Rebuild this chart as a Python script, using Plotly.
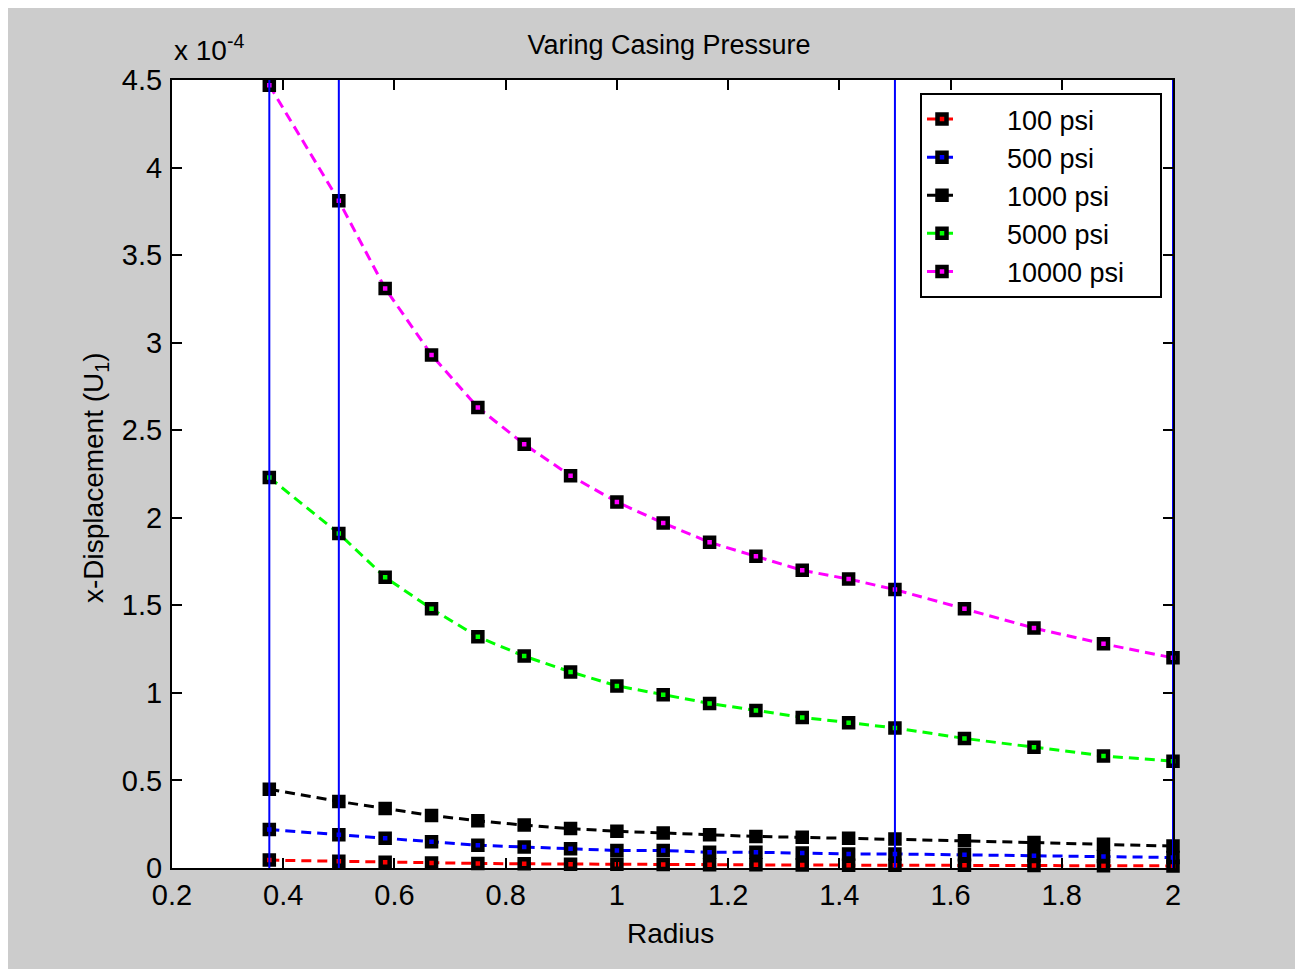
import plotly.graph_objects as go

# Radius values (x)
radius = [0.375, 0.5, 0.5833, 0.6667, 0.75, 0.8333, 0.9167, 1.0, 1.0833,
          1.1667, 1.25, 1.3333, 1.4167, 1.5, 1.625, 1.75, 1.875, 2.0]

# x-displacement values, in units of 1e-4
u_100 = [0.045, 0.038, 0.033, 0.029, 0.026, 0.024, 0.022, 0.021, 0.020,
         0.019, 0.018, 0.017, 0.016, 0.016, 0.015, 0.014, 0.013, 0.012]
u_500 = [0.22, 0.19, 0.17, 0.15, 0.13, 0.12, 0.11, 0.10, 0.10,
         0.09, 0.09, 0.085, 0.08, 0.08, 0.075, 0.07, 0.065, 0.06]
u_1000 = [0.45, 0.38, 0.34, 0.30, 0.27, 0.245, 0.225, 0.21, 0.20,
          0.19, 0.18, 0.175, 0.17, 0.165, 0.155, 0.145, 0.135, 0.125]
u_5000 = [2.23, 1.91, 1.66, 1.48, 1.32, 1.21, 1.12, 1.04, 0.99,
          0.94, 0.90, 0.86, 0.83, 0.80, 0.74, 0.69, 0.64, 0.61]
u_10000 = [4.47, 3.81, 3.31, 2.93, 2.63, 2.42, 2.24, 2.09, 1.97,
           1.86, 1.78, 1.70, 1.65, 1.59, 1.48, 1.37, 1.28, 1.20]

series_names = ["100 psi", "500 psi", "1000 psi", "5000 psi", "10000 psi"]
series_values = [u_100, u_500, u_1000, u_5000, u_10000]
series_colors = ["#ff0000", "#0000ff", "#000000", "#00ff00", "#ff00ff"]

# vertical reference lines (radius positions)
vlines_x = [0.375, 0.5, 1.5, 2.0]
y_range = [0, 4.5]
x_range = [0.2, 2.0]

FONT = "Liberation Sans, Arial, Helvetica, sans-serif"
NB = "\u00a0"

fig = go.Figure()

for name, vals, col in zip(series_names, series_values, series_colors):
    fig.add_trace(go.Scatter(
        x=radius, y=vals, name=NB * 6 + name + NB * 4, mode="lines+markers",
        line=dict(color=col, width=3, dash="10px,6px"),
        marker=dict(symbol="square", size=9, color=col,
                    line=dict(color="#000000", width=4.5)),
        cliponaxis=False,
    ))

for vx in vlines_x:
    fig.add_trace(go.Scatter(
        x=[vx, vx], y=y_range, mode="lines", showlegend=False,
        line=dict(color="#0000ff", width=2), hoverinfo="skip",
        cliponaxis=False,
    ))

# page offset (browser body margin)
OFF = 8
W, H = 1303 - OFF, 969 - OFF
# plot area in screen pixels
SX0, SX1, SY0, SY1 = 172, 1173, 80, 868
L, T = SX0 - OFF, SY0 - OFF
R = W - L - (SX1 - SX0)
B = H - T - (SY1 - SY0)
pw, ph = SX1 - SX0, SY1 - SY0

def px_x(p):
    return (p - SX0) / pw

def px_y(p):
    return (SY1 - p) / ph

fig.update_layout(
    width=W, height=H,
    margin=dict(l=L, r=R, t=T, b=B, pad=0),
    paper_bgcolor="#cccccc",
    plot_bgcolor="#ffffff",
    font=dict(family=FONT, size=28, color="#000000"),
    title=dict(text="Varing Casing Pressure", x=px_x(669), xref="paper",
               xanchor="center", y=1 - (45 - OFF) / H, yref="container",
               yanchor="middle", font=dict(size=27, family=FONT)),
    showlegend=True,
    legend=dict(x=px_x(920), y=px_y(93), xanchor="left", yanchor="top",
                bgcolor="#ffffff", bordercolor="#000000", borderwidth=2,
                font=dict(size=27, family=FONT), tracegroupgap=0),
    xaxis=dict(range=x_range, dtick=0.2, tick0=0.2, showgrid=False,
               zeroline=False, showline=True, linecolor="#000000",
               linewidth=2, mirror="ticks", ticks="inside", ticklen=10,
               tickwidth=1.5, tickcolor="#000000",
               tickfont=dict(size=29, family=FONT), ticklabelstandoff=0),
    yaxis=dict(range=y_range, dtick=0.5, tick0=0, showgrid=False,
               zeroline=False, showline=True, linecolor="#000000",
               linewidth=2, mirror="ticks", ticks="inside", ticklen=10,
               tickwidth=1.5, tickcolor="#000000",
               tickfont=dict(size=29, family=FONT), ticklabelstandoff=2),
    shapes=[dict(type="rect", xref="paper", yref="paper",
                 x0=px_x(1297), x1=px_x(1320), y0=px_y(1000), y1=px_y(0),
                 fillcolor="#ffffff", line=dict(width=0), layer="below")],
    annotations=[
        dict(text="Radius", xref="paper", yref="paper", x=px_x(670),
             y=px_y(933), xanchor="center", yanchor="middle",
             showarrow=False, font=dict(size=28, family=FONT)),
        dict(text="x-Displacement (U<sub>1</sub>)", xref="paper",
             yref="paper", x=px_x(95), y=px_y(478), xanchor="center",
             yanchor="middle", textangle=-90, showarrow=False,
             font=dict(size=28, family=FONT)),
        dict(text="x 10<sup>-4</sup>", xref="paper", yref="paper",
             x=px_x(172), y=px_y(68), xanchor="left", yanchor="bottom",
             showarrow=False, font=dict(size=28, family=FONT)),
    ],
)

fig.write_html("out.html")
